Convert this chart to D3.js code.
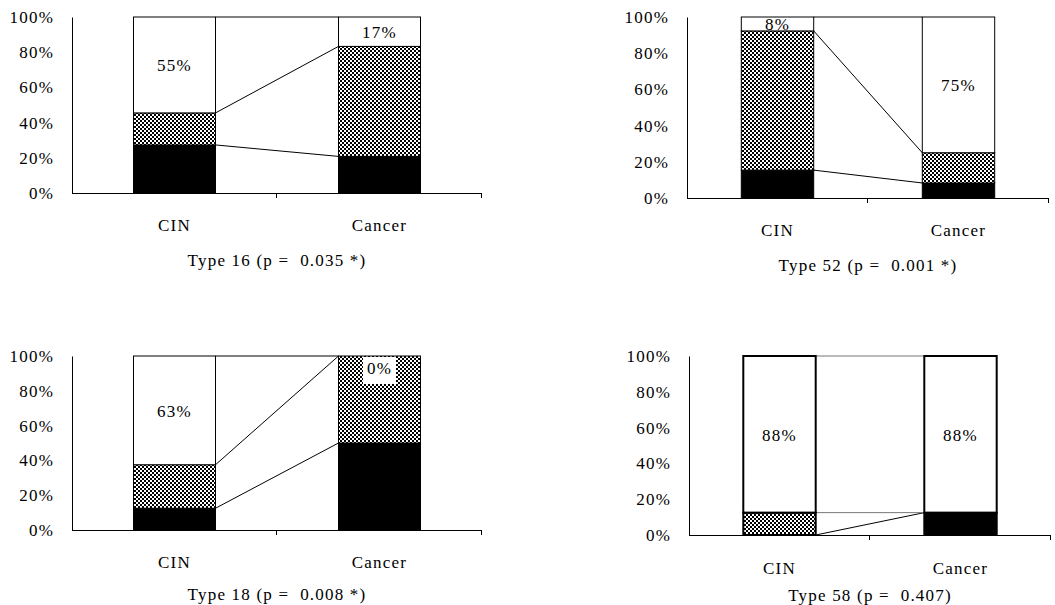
<!DOCTYPE html>
<html lang="en">
<head>
<meta charset="UTF-8">
<title>HPV types CIN vs Cancer</title>
<script src="https://d3js.org/d3.v7.min.js"></script>
<style>
    body { margin: 0; background: #fff; }
    #chart text { font-family: "Liberation Serif", Tinos, "DejaVu Serif", serif; font-size: 17px; letter-spacing: 1.2px; fill: #000; }
</style>
</head>
<body>
<svg id="chart" width="1055" height="605"></svg>
<script>
    // Data (percent of cases)
    const categories = ["CIN", "Cancer"];
    const titles = ["Type 16 (p =  0.035 *)", "Type 52 (p =  0.001 *)", "Type 18 (p =  0.008 *)", "Type 58 (p =  0.407)"];
    const solidVals = [[27.3, 20.8], [15.4, 8.3], [12.5, 50], [0, 12.5]];
    const checkVals = [[18.2, 62.5], [76.9, 16.7], [25, 50], [12.5, 0]];
    const openVals = [[54.5, 16.7], [7.7, 75], [62.5, 0], [87.5, 87.5]];
    const yTicks = [0, 20, 40, 60, 80, 100];

    // Panel layouts
    const panels = [
        { x0: 72, x1: 482, top: 17, bottom: 193, labY: 225, titleY: 260, bw: 1 },
        { x0: 687, x1: 1049, top: 17, bottom: 198, labY: 230, titleY: 265, bw: 1 },
        { x0: 72, x1: 482, top: 356, bottom: 530, labY: 562, titleY: 594, bw: 1 },
        { x0: 689, x1: 1051, top: 356, bottom: 535, labY: 568, titleY: 595, bw: 2 }
    ];

    const svg = d3.select("#chart");

    // small checkerboard fill
    const pat = svg.append("defs").append("pattern")
        .attr("id", "checker")
        .attr("patternUnits", "userSpaceOnUse")
        .attr("width", 4).attr("height", 4);
    pat.append("rect").attr("width", 4).attr("height", 4).attr("fill", "#fff");
    pat.append("rect").attr("width", 2).attr("height", 2).attr("fill", "#000");
    pat.append("rect").attr("x", 2).attr("y", 2).attr("width", 2).attr("height", 2).attr("fill", "#000");

    const fills = ["#000", "url(#checker)", "#fff"];

    panels.forEach((p, i) => {
        const g = svg.append("g");
        const x = d3.scaleBand().domain(categories).range([p.x0, p.x1]).paddingInner(0.6).paddingOuter(0.3);
        const y = d3.scaleLinear().domain([0, 100]).range([p.bottom, p.top]);

        const rows = categories.map((c, j) => {
            const vals = [solidVals[i][j], checkVals[i][j], openVals[i][j]];
            let acc = 0;
            const segs = vals.map((v, k) => {
                const s = { k, y0: acc, y1: acc + v, v };
                acc += v;
                return s;
            });
            return { cat: c, segs };
        });

        // series lines between bars
        for (let k = 0; k < 3; k++) {
            const ya = y(rows[0].segs[k].y1), yb = y(rows[1].segs[k].y1);
            g.append("line")
                .attr("x1", x("CIN") + x.bandwidth())
                .attr("x2", x("Cancer"))
                .attr("y1", ya)
                .attr("y2", yb)
                .attr("stroke", p.bw > 1 && ya === yb ? "#777" : "#000")
                .attr("stroke-width", 1);
        }

        // stacked bars
        rows.forEach(r => {
            g.selectAll(null)
                .data(r.segs.filter(s => s.v > 0))
                .join("rect")
                .attr("x", x(r.cat))
                .attr("width", x.bandwidth())
                .attr("y", s => y(s.y1))
                .attr("height", s => y(s.y0) - y(s.y1))
                .attr("fill", s => fills[s.k])
                .attr("stroke", "#000")
                .attr("stroke-width", p.bw);
        });

        // y axis
        const yAxis = g.append("g")
            .attr("transform", `translate(${p.x0},0)`)
            .call(d3.axisLeft(y).tickValues(yTicks).tickSize(0).tickPadding(18).tickFormat(d => d + "%"));
        yAxis.attr("font-family", null).attr("font-size", null);
        yAxis.select(".domain").attr("stroke", "#000");

        // x axis with ticks at category boundaries
        g.append("line")
            .attr("x1", p.x0).attr("x2", p.x1)
            .attr("y1", p.bottom + 0.5).attr("y2", p.bottom + 0.5)
            .attr("stroke", "#000");
        [1, 2].forEach(n => {
            const tx = Math.round(p.x0 + x.step() * n) - 0.5;
            g.append("line")
                .attr("x1", tx).attr("x2", tx)
                .attr("y1", p.bottom).attr("y2", p.bottom + 5)
                .attr("stroke", "#000");
        });

        // labels inside the open segment
        rows.forEach(r => {
            const s = r.segs[2];
            const cx = x(r.cat) + x.bandwidth() / 2;
            const cy = s.v > 0 ? (y(s.y0) + y(s.y1)) / 2 + 1 : y(100) + 12;
            const lg = g.append("g");
            const t = lg.append("text")
                .attr("x", cx).attr("y", cy)
                .attr("text-anchor", "middle")
                .attr("dominant-baseline", "central")
                .text(Math.round(s.v) + "%");
            if (s.v === 0) {
                const b = t.node().getBBox();
                lg.insert("rect", "text")
                    .attr("x", b.x - 4).attr("y", y(100) + 1)
                    .attr("width", b.width + 8).attr("height", 27)
                    .attr("fill", "#fff");
            }
        });

        // category labels
        g.selectAll(".cat")
            .data(categories)
            .join("text")
            .attr("class", "cat")
            .attr("x", d => x(d) + x.bandwidth() / 2)
            .attr("y", p.labY)
            .attr("text-anchor", "middle")
            .attr("dominant-baseline", "central")
            .text(d => d);

        // panel title
        g.append("text")
            .attr("x", (p.x0 + p.x1) / 2)
            .attr("y", p.titleY)
            .attr("text-anchor", "middle")
            .attr("dominant-baseline", "central")
            .style("white-space", "pre")
            .text(titles[i]);
    });
</script>
</body>
</html>
